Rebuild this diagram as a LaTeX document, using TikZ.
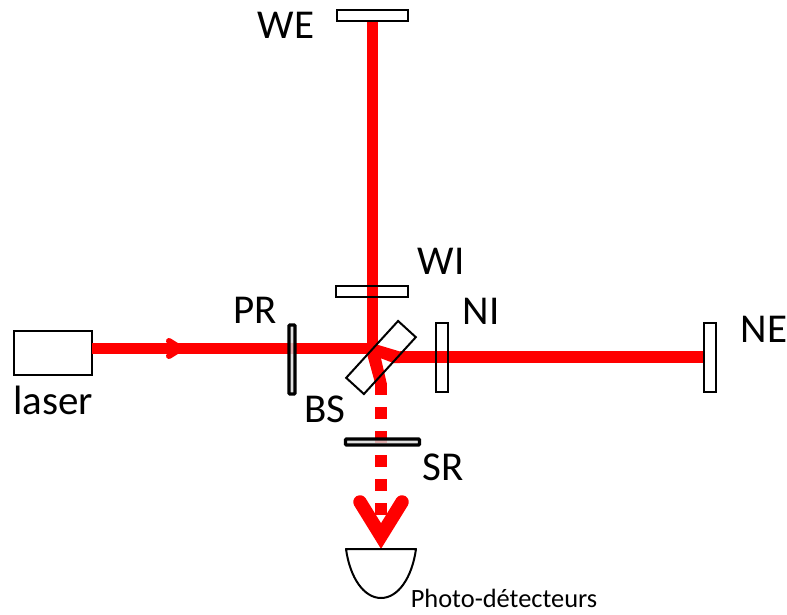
\documentclass[tikz,border=0pt]{standalone}
\usepackage{fontspec}
\setmainfont{Carlito}
\definecolor{beamred}{RGB}{255,0,0}
\tikzset{
  optic/.style={draw=black,line width=2pt,inner sep=0pt,outer sep=0pt,minimum width=#1},
  thickoptic/.style={draw=black,line width=3.4pt,rounded corners=1pt,inner sep=0pt,outer sep=0pt,fill=black!15,fill opacity=0.8,draw opacity=1},
  beam/.style={draw=beamred,line width=11.5pt},
  dashbeam/.style={draw=beamred,line width=12pt,dash pattern=on 12pt off 12pt},
  lab/.style={font=\fontsize{41}{41}\selectfont,inner sep=0pt,text=black},
  smalllab/.style={font=\fontsize{26.4}{26.4}\selectfont,inner sep=0pt,text=black}
}
\begin{document}
\begin{tikzpicture}[x=1pt,y=-1pt]
\useasboundingbox (0,0) rectangle (787,615);
% coordinates of the optical path
\coordinate (c1) at (372.5,348.5);
\coordinate (w1) at (378.3,345);
\coordinate (w2) at (400,351.5);
\coordinate (w3) at (400,363);
\coordinate (w4) at (393.3,363);
\coordinate (w5) at (381,358.3);
\coordinate (w6) at (386.7,383);
\coordinate (w7) at (375,383);
\coordinate (w8) at (367,354);
\coordinate (c2) at (400,357.2);
\coordinate (c4) at (381,383);
\coordinate (tipL) at (360,502);
\coordinate (tipC) at (381,536);
\coordinate (tipR) at (402,502);
\coordinate (arrL) at (169,341);
\coordinate (arrC) at (181,348.5);
\coordinate (arrD) at (169,356);
% optics
\node[optic=78pt,minimum height=44pt] (laser) at (53,353) {};
\node[optic=71pt,minimum height=11pt] (WE) at (372.5,15.5) {};
\node[optic=72pt,minimum height=11pt] (WI) at (372,291.5) {};
\node[optic=12pt,minimum height=69pt] (NI) at (442,357.5) {};
\node[optic=12pt,minimum height=69pt] (NE) at (710,357.5) {};
% beams
\draw[beam] (laser.east |- c1) -- (c1);
\draw[beam] (WE.south) -- (372.5,354);
\fill[beamred] (c1) -- (w1) -- (w2) -- (w3) -- (w4) -- (w5) -- (w6) -- (w7) -- (w8) -- cycle;
\draw[beam] (c2) -- (NE.west |- c2);
\draw[dashbeam] (c4) -- (381,540);
\draw[draw=beamred,line width=6pt,line cap=round,line join=miter] (arrL) -- (arrC) -- (arrD);
\draw[draw=beamred,line width=13.5pt,line cap=round,line join=miter] (tipL) -- (tipC) -- (tipR);
% redraw open optics on top of beams
\node[optic=71pt,minimum height=11pt] at (WE) {};
\node[optic=72pt,minimum height=11pt] at (WI) {};
\node[optic=12pt,minimum height=69pt] at (NI) {};
\node[optic=12pt,minimum height=69pt] at (NE) {};
\node[thickoptic,minimum width=6pt,minimum height=69pt] (PR) at (292,359.5) {};
\node[thickoptic,minimum width=74pt,minimum height=6pt] (SR) at (382.5,442) {};
\node[optic=77pt,minimum height=24pt,rotate=47.6] (BS) at (381,357.5) {};
% detector
\draw[black,line width=2pt,line join=round] (346,549) .. controls (350,578) and (364,598) .. (381,598) .. controls (398,598) and (412,578) .. (416,549) -- cycle;
% labels
\node[lab] (lWE) at (286,25) {WE};
\node[lab] (lWI) at (441,261) {WI};
\node[lab] (lPR) at (255,310) {PR};
\node[lab] (lNI) at (481,311) {NI};
\node[lab] (lNE) at (764,329) {NE};
\node[lab] (lBS) at (325,409) {BS};
\node[lab] (lSR) at (443,467) {SR};
\node[lab] (llaser) at (53,400) {laser};
\node[smalllab] (lPD) at (504,598) {Photo-détecteurs};
\end{tikzpicture}
\end{document}
